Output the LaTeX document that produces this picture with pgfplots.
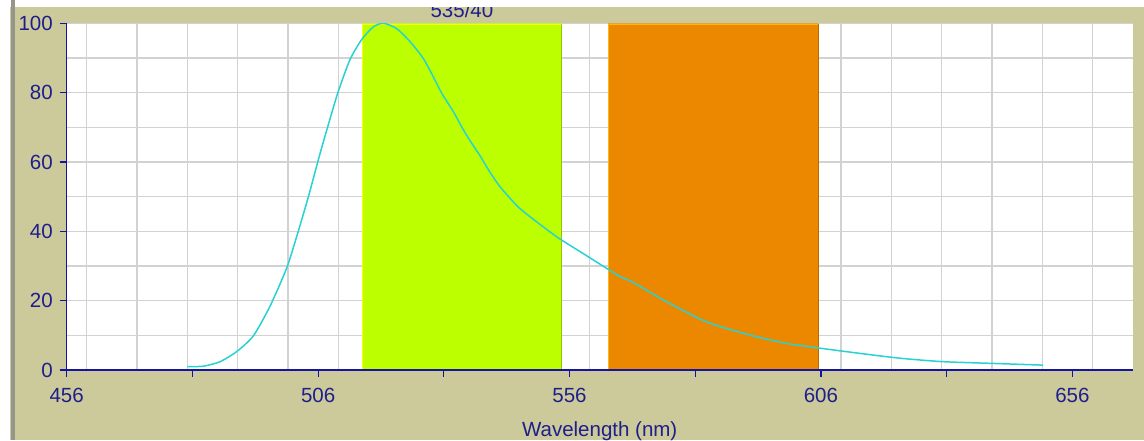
\documentclass[border=0pt]{standalone}
\usepackage{pgfplots}
\pgfplotsset{compat=1.18}
\usepackage{fontspec}
\setmainfont{Liberation Sans}

\definecolor{panel}{RGB}{204,202,154}
\definecolor{frame}{RGB}{150,150,140}
\definecolor{axisblue}{RGB}{20,20,160}
\definecolor{labelblue}{RGB}{30,30,140}
\definecolor{gridgray}{RGB}{210,210,210}
\definecolor{bandgreen}{RGB}{187,255,0}
\definecolor{bandgreenedge}{RGB}{150,196,0}
\definecolor{bandyellow}{RGB}{255,255,0}
\definecolor{bandorange}{RGB}{236,136,0}
\definecolor{bandorangelight}{RGB}{255,184,0}
\definecolor{bandorangedark}{RGB}{184,108,0}
\definecolor{spectrum}{RGB}{40,210,210}

% grid under the filter bands, axis lines and ticks over them
\pgfplotsset{
  layers/gridunder/.define layer set={
    axis background,axis grid,pre main,main,axis ticks,axis lines,axis tick labels,axis descriptions,axis foreground
  }{
    grid style={/pgfplots/on layer=axis grid},
    tick style={/pgfplots/on layer=axis ticks},
    axis line style={/pgfplots/on layer=axis lines},
    label style={/pgfplots/on layer=axis descriptions},
    ticklabel style={/pgfplots/on layer=axis tick labels},
  },
}

\newcommand{\chartfont}{\fontsize{20.5}{24}\selectfont}

% emission spectrum (wavelength in nm, relative intensity)
\pgfplotstableread{
lambda  val
480.0   1.0
483.2   1.1
486.5   2.4
489.8   5.3
493.1   9.8
496.4   18.3
499.7   29.2
501.7   38.3
504.0   49.6
505.0   55.0
506.4   62.5
508.3   72.1
510.0   80.3
512.3   89.4
514.6   95.2
517.0   99.0
519.0   100.0
521.6   98.5
524.3   94.7
526.9   89.9
528.9   84.6
530.6   79.8
532.9   74.5
534.8   69.5
536.5   65.5
538.2   61.8
540.2   57.0
542.1   53.0
544.0   49.8
546.1   46.6
549.4   42.8
552.7   39.2
554.4   37.5
558.7   33.6
563.4   29.3
566.0   27.0
568.6   25.3
575.3   19.7
583.2   13.9
591.8   10.1
599.1   7.7
605.8   6.3
613.7   4.8
621.7   3.4
630.3   2.4
640.2   1.9
650.2   1.4
}\spectrumdata

\begin{document}
\begin{tikzpicture}[x=1pt,y=1pt]
\begin{axis}[
  set layers=gridunder,
  clip mode=individual,
  at={(66.7pt,70pt)}, anchor=south west,
  scale only axis, width=1066pt, height=346.7pt,
  xmin=456, xmax=668, ymin=0, ymax=100,
  axis x line=bottom, axis y line=left,
  axis line style={-, draw=axisblue, line width=1.4pt},
  xtick={456,481,...,656},
  xticklabels={456,,506,,556,,606,,656},
  minor xtick={460,470,...,660},
  ytick={0,20,...,100},
  minor ytick={10,30,...,90},
  xmajorgrids=false, xminorgrids=true,
  ymajorgrids=true, yminorgrids=true,
  grid style={gridgray, line width=1.3pt},
  tick align=outside,
  major tick length=7pt, minor tick length=0pt,
  tick style={axisblue, line width=1.2pt},
  /pgf/number format/assume math mode=true,
  ticklabel style={font=\chartfont, text=labelblue},
  xticklabel style={inner sep=0pt, anchor=north, yshift=-10.7pt},
  yticklabel style={inner sep=0pt, anchor=east, xshift=-6.7pt},
  xlabel={Wavelength (nm)},
  xlabel style={font=\chartfont, text=labelblue, anchor=base,
    at={(axis description cs:0.5,0)}, yshift=-66.7pt},
]
% panel and white plotting area, beneath the grid
\begin{pgfonlayer}{axis background}
  \fill[panel] ([xshift=-66.7pt,yshift=-70pt]rel axis cs:0,0) rectangle ([xshift=11.3pt,yshift=23.3pt]rel axis cs:1,1);
  \fill[white] (rel axis cs:0,0) rectangle (rel axis cs:1,1);
\end{pgfonlayer}
% 535/40 band
\addplot[draw=none, fill=bandgreen] coordinates {(514.8,0) (514.8,100) (554.4,100) (554.4,0)} \closedcycle;
\addplot[bandyellow, line width=1.3pt] coordinates {(514.8,0) (514.8,99.7) (554.4,99.7)};
\addplot[bandgreenedge, line width=1.2pt] coordinates {(554.4,99.7) (554.4,0)};
% second band
\addplot[draw=none, fill=bandorange] coordinates {(563.7,0) (563.7,100) (605.5,100) (605.5,0)} \closedcycle;
\addplot[bandorangelight, line width=1.3pt] coordinates {(563.7,0) (563.7,99.7) (605.5,99.7)};
\addplot[bandorangedark, line width=1.2pt] coordinates {(605.5,99.7) (605.5,0)};
% spectrum
\addplot[spectrum, line width=1.5pt, smooth, tension=0.4] table[x=lambda, y=val] {\spectrumdata};
\node[anchor=base, font=\chartfont, text=labelblue, yshift=5.3pt] at (axis cs:534.6,100) {535/40};
\end{axis}
\fill[white] (0,433) rectangle (1144,440);
\fill[white] (0,0) rectangle (10,440);
\fill[frame] (11,0) rectangle (15,440);
\pgfresetboundingbox
\path (0,0) rectangle (1144,440);
\end{tikzpicture}
\end{document}
